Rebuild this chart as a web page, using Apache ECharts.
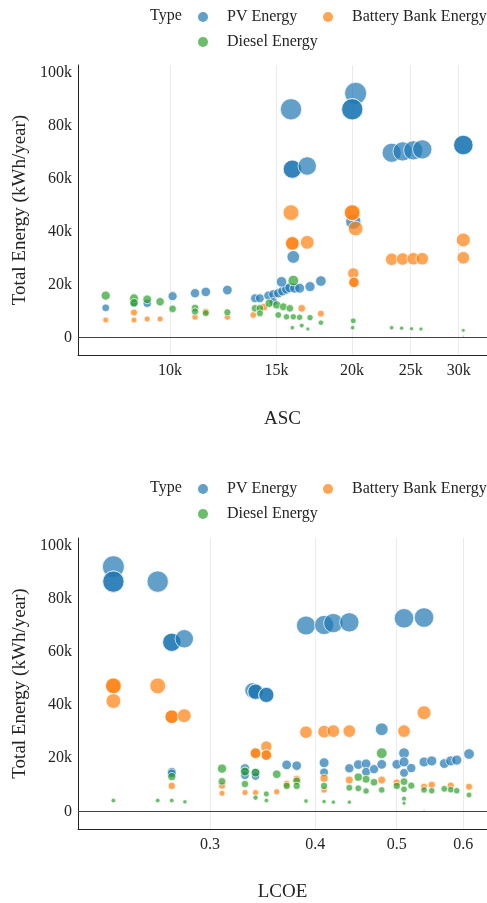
<!DOCTYPE html>
<html>
<head>
<meta charset="utf-8">
<title>Total Energy vs ASC and LCOE</title>
<script src="https://cdn.jsdelivr.net/npm/echarts@6/dist/echarts.min.js"></script>
<style>
  html, body { margin: 0; padding: 0; background: #fff; }
  #chart { width: 487px; height: 903px; }
</style>
</head>
<body>
<div id="chart"></div>
<script>
// Tick values for the axes
const ascTicks = [10000, 15000, 20000, 25000, 30000];
const lcoeTicks = [0.3, 0.4, 0.5, 0.6];
const energyTicks = [0, 20000, 40000, 60000, 80000, 100000];

// Each point: [ASC, energy kWh/year]
const ascPV = [
  [7830, 11200], [8720, 12900], [9170, 12900], [10100, 15600], [11000, 16700], [11460, 17200], [12440, 17900],
  [13820, 14800], [14080, 14800], [14540, 15800], [14820, 16300], [14820, 13500], [15100, 16700], [15350, 17500],
  [15580, 18200], [15780, 18800], [16070, 18600], [16380, 18600], [17040, 19200], [17760, 21300], [15290, 21000],
  [15990, 30400], [15850, 86100], [20270, 92100], [20010, 86100], [20010, 86100], [15930, 63500], [15930, 63500],
  [16860, 64700], [23250, 69700], [24240, 70200], [25240, 70600], [26120, 71000], [30540, 72600], [30540, 72600],
  [20090, 43700]
];
const ascBattery = [
  [7830, 6600], [8720, 9400], [8720, 6600], [9170, 7000], [9630, 7000], [11000, 7700], [11460, 9700], [12440, 7700],
  [13730, 8500], [14300, 11500], [16510, 11000], [17760, 9000],
  [20090, 24200], [20140, 20800], [20140, 20800],
  [15850, 47100], [20010, 47100], [20010, 47100], [20270, 41100], [15930, 35500], [15930, 35500], [16860, 35900],
  [23250, 29500], [24240, 29600], [25240, 29700], [26120, 29700], [30540, 36800], [30540, 30100]
];
const ascDiesel = [
  [7830, 15800], [8720, 14800], [8720, 13100], [9170, 14400], [9630, 13500], [10100, 10800], [11000, 11100],
  [11000, 9800], [11460, 9200], [12440, 9500],
  [13820, 11000], [14080, 11000], [14590, 12900], [15010, 12300], [15390, 11600], [15780, 11000], [14080, 9100],
  [15100, 8500], [15580, 7800], [15990, 7800], [16380, 7600], [17040, 7500],
  [15990, 21500],
  [15930, 3700], [16510, 4500], [16900, 3200], [17760, 5600], [20090, 6300], [20040, 3700],
  [23250, 3700], [24150, 3500], [25080, 3300], [25990, 3200], [30540, 2700], [30540, 500]
];

// Each point: [LCOE, energy kWh/year]
const lcoePV = [
  [0.2303, 92000], [0.2303, 86400], [0.2303, 86400], [0.2600, 86400], [0.2702, 63600], [0.2702, 63600], [0.2796, 64900],
  [0.3370, 45500], [0.3398, 45000], [0.3398, 45000], [0.3500, 43800], [0.3500, 43800],
  [0.3901, 69900], [0.4099, 70100], [0.4204, 70800], [0.4392, 71100], [0.5101, 72600], [0.5388, 72900],
  [0.4799, 30900], [0.5101, 21900],
  [0.2702, 14900], [0.2702, 14300], [0.3301, 16200], [0.3301, 15000], [0.3301, 13600], [0.3398, 14500], [0.3398, 13300],
  [0.3700, 17500], [0.3803, 17200], [0.4099, 18300], [0.4099, 14700], [0.4392, 16200], [0.4501, 17600], [0.4598, 17900],
  [0.4598, 14900], [0.4699, 15900], [0.4799, 17700],
  [0.5001, 17700], [0.5101, 18600], [0.5101, 14500], [0.5203, 16300], [0.5388, 18600], [0.5503, 19000], [0.5695, 18000],
  [0.5796, 19000], [0.5893, 19300], [0.6094, 21600]
];
const lcoeBattery = [
  [0.2303, 47200], [0.2303, 47200], [0.2303, 41500], [0.2600, 47200], [0.2702, 35600], [0.2702, 35600], [0.2796, 36000],
  [0.3398, 21900], [0.3398, 21900], [0.3500, 24400], [0.3500, 21200], [0.3500, 21200],
  [0.3901, 29800], [0.4099, 30000], [0.4204, 30200], [0.4392, 30200], [0.5101, 30200], [0.5388, 37100],
  [0.2702, 9600], [0.3100, 9700], [0.3100, 6800], [0.3301, 7100], [0.3398, 7100], [0.3601, 7400], [0.3700, 10300],
  [0.3803, 12100], [0.4099, 12500], [0.4099, 8100], [0.4392, 11800], [0.4799, 11800], [0.5001, 10800], [0.5388, 9300],
  [0.5503, 10000], [0.5796, 9700], [0.6094, 9300]
];
const lcoeDiesel = [
  [0.2303, 4100], [0.2600, 4100], [0.2702, 4100], [0.2801, 3600], [0.2702, 13100],
  [0.3100, 16100], [0.3100, 11300], [0.3301, 15000], [0.3301, 10300], [0.3398, 14600], [0.3398, 5200], [0.3500, 6600],
  [0.3500, 4100], [0.3601, 14000],
  [0.3700, 9600], [0.3803, 11500], [0.3803, 9600], [0.3901, 3900], [0.4099, 9600], [0.4099, 3700], [0.4204, 3500],
  [0.4392, 8900], [0.4392, 3500],
  [0.4501, 12900], [0.4501, 8700], [0.4598, 12100], [0.4598, 7700], [0.4699, 11000], [0.4799, 21900], [0.4799, 8100],
  [0.5001, 9600], [0.5101, 11200], [0.5101, 8300], [0.5101, 4800], [0.5101, 3100], [0.5203, 9700], [0.5388, 8100],
  [0.5388, 600], [0.5503, 7800], [0.5695, 8500], [0.5796, 8200], [0.5893, 7800], [0.6094, 6200]
];

const FONT = '"Liberation Serif", "Times New Roman", serif';
const INK = '#242424';
const COLORS = { pv: '#1f77b4', battery: '#ff7f0e', diesel: '#2ca02c' };
// bubble diameter grows with the square root of the energy (area ~ value)
const SIZE_K = 0.0725;

function kLabel(v) { return v === 0 ? '0' : (v / 1000) + 'k'; }

function energyAxis(gridIndex) {
  return {
    type: 'value', gridIndex: gridIndex,
    min: -6600, max: 102800,
    name: 'Total Energy (kWh/year)', nameLocation: 'middle', nameGap: 43,
    nameTextStyle: { fontFamily: FONT, fontSize: 19, color: INK },
    axisLine: { show: true, onZero: false, lineStyle: { color: INK, width: 1 } },
    axisTick: { show: false },
    splitLine: { show: false },
    axisLabel: { customValues: energyTicks, formatter: kLabel, fontFamily: FONT, fontSize: 16, color: INK, margin: 6 }
  };
}

function logAxis(gridIndex, min, max, ticks, name, fmt, nameGap) {
  return {
    type: 'log', logBase: 10, gridIndex: gridIndex, min: min, max: max,
    name: name, nameLocation: 'middle', nameGap: nameGap,
    nameTextStyle: { fontFamily: FONT, fontSize: 19, color: INK },
    axisLine: { show: true, onZero: false, lineStyle: { color: INK, width: 1 } },
    axisTick: { show: false, customValues: ticks },
    splitLine: { show: true, lineStyle: { color: '#ebebeb', width: 1 } },
    axisLabel: { customValues: ticks, formatter: fmt, fontFamily: FONT, fontSize: 16, color: INK, margin: 8 }
  };
}

function bubbles(name, color, data, idx, withZeroLine) {
  const s = {
    name: name, type: 'scatter', xAxisIndex: idx, yAxisIndex: idx,
    data: data,
    symbol: 'circle',
    symbolSize: function (d) { return SIZE_K * Math.sqrt(Math.max(d[1], 0)); },
    itemStyle: { color: color, opacity: 0.7, borderColor: '#ffffff', borderWidth: 1 },
    emphasis: { disabled: true },
    animation: false
  };
  if (withZeroLine) {
    s.markLine = {
      silent: true, symbol: 'none', animation: false,
      label: { show: false },
      lineStyle: { color: '#444', width: 1, type: 'solid' },
      data: [{ yAxis: 0 }]
    };
  }
  return s;
}

// one legend entry per component so each sits exactly where it belongs
function legendItem(name, left, top) {
  return {
    data: [name], left: left, top: top, padding: 0, width: 200,
    orient: 'horizontal', icon: 'circle', itemWidth: 10, itemHeight: 10,
    itemStyle: { opacity: 0.7, borderWidth: 0 },
    textStyle: { fontFamily: FONT, fontSize: 16, color: INK, lineHeight: 16, padding: [0, 0, 0, 14] },
    selectedMode: false
  };
}

function typeTitle(top) {
  return {
    text: 'Type', left: 150, top: top, padding: 0,
    textStyle: { fontFamily: FONT, fontSize: 16, fontWeight: 'normal', color: INK, lineHeight: 16 }
  };
}

const chart = echarts.init(document.getElementById('chart'), null, { renderer: 'canvas' });
chart.setOption({
  backgroundColor: '#ffffff',
  animation: false,
  title: [typeTitle(8), typeTitle(480)],
  legend: [
    legendItem('PV Energy', 198, 9),
    legendItem('Battery Bank Energy', 323, 9),
    legendItem('Diesel Energy', 198, 34),
    legendItem('PV Energy', 198, 481),
    legendItem('Battery Bank Energy', 323, 481),
    legendItem('Diesel Energy', 198, 506)
  ],
  grid: [
    { left: 78, right: 0, top: 65, height: 290, containLabel: false, outerBoundsMode: 'none' },
    { left: 78, right: 0, top: 538, height: 291, containLabel: false, outerBoundsMode: 'none' }
  ],
  xAxis: [
    logAxis(0, 7046, 33420, ascTicks, 'ASC', kLabel, 55),
    logAxis(1, 0.20905, 0.6401, lcoeTicks, 'LCOE', function (v) { return String(v); }, 54)
  ],
  yAxis: [energyAxis(0), energyAxis(1)],
  series: [
    bubbles('PV Energy', COLORS.pv, ascPV, 0, true),
    bubbles('Battery Bank Energy', COLORS.battery, ascBattery, 0, false),
    bubbles('Diesel Energy', COLORS.diesel, ascDiesel, 0, false),
    bubbles('PV Energy', COLORS.pv, lcoePV, 1, true),
    bubbles('Battery Bank Energy', COLORS.battery, lcoeBattery, 1, false),
    bubbles('Diesel Energy', COLORS.diesel, lcoeDiesel, 1, false)
  ]
});
</script>
</body>
</html>
